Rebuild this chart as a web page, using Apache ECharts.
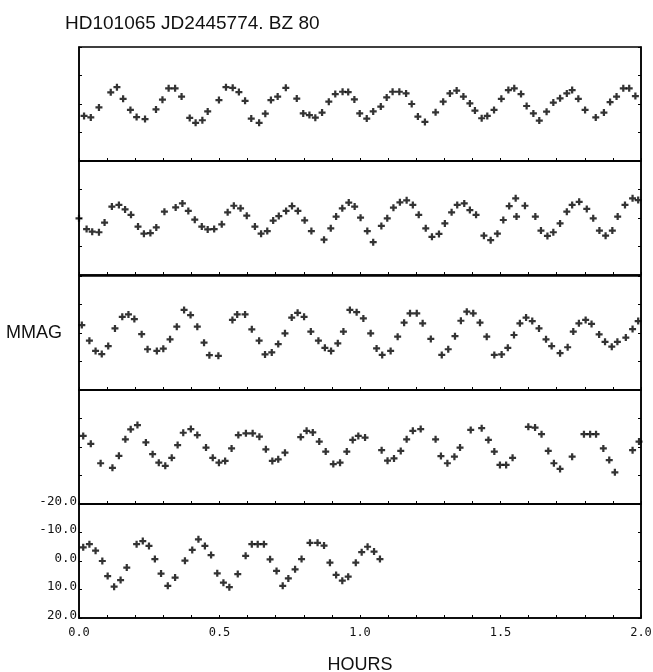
<!DOCTYPE html>
<html>
<head>
<meta charset="utf-8">
<script src="https://cdn.jsdelivr.net/npm/echarts@6/dist/echarts.min.js"></script>
<style>html,body{margin:0;padding:0;background:#fff}#chart{width:653px;height:672px}</style>
</head>
<body>
<div id="chart"></div>
<script>
// Tick labels
const xTickLabels = ['0.0', '0.5', '1.0', '1.5', '2.0'];
const yTickLabels = ['-20.0', '-10.0', '0.0', '10.0', '20.0'];

// Panel data: [hours, mmag]
const panel1 = [[0.018,4.2],[0.042,4.7],[0.071,1.2],[0.113,-4.1],[0.135,-5.9],[0.157,-1.8],[0.183,2.1],[0.205,4.6],[0.235,5.3],[0.274,1.9],[0.297,-1.5],[0.319,-5.5],[0.342,-5.5],[0.365,-2.6],[0.394,4.9],[0.415,6.6],[0.439,5.7],[0.458,2.6],[0.498,-1.4],[0.523,-5.9],[0.547,-5.7],[0.569,-4.2],[0.591,-1.1],[0.613,5.1],[0.641,6.6],[0.663,3.4],[0.683,-1.4],[0.707,-2.6],[0.736,-5.7],[0.775,-1.9],[0.798,3.3],[0.820,3.9],[0.841,4.8],[0.865,3.0],[0.889,-0.8],[0.912,-3.5],[0.938,-4.3],[0.958,-4.2],[0.980,-1.6],[0.999,3.3],[1.024,5.1],[1.047,2.6],[1.074,0.9],[1.095,-2.3],[1.116,-4.3],[1.140,-4.3],[1.164,-3.7],[1.184,0.0],[1.206,4.4],[1.231,6.3],[1.269,2.9],[1.296,-0.8],[1.320,-3.7],[1.344,-4.7],[1.368,-2.6],[1.391,-0.2],[1.409,2.3],[1.433,5.0],[1.453,4.2],[1.477,2.1],[1.503,-1.8],[1.528,-4.9],[1.549,-5.5],[1.573,-3.5],[1.593,0.7],[1.617,3.3],[1.638,5.8],[1.664,2.7],[1.688,-0.5],[1.712,-2.0],[1.736,-3.7],[1.755,-4.9],[1.777,-1.8],[1.801,2.1],[1.839,4.7],[1.868,3.0],[1.890,-0.7],[1.913,-2.6],[1.937,-5.5],[1.958,-5.5],[1.980,-2.8]];

const panel2 = [[0.000,0.1],[0.027,3.9],[0.047,4.8],[0.071,5.0],[0.091,1.6],[0.117,-4.0],[0.142,-4.6],[0.164,-3.0],[0.185,-1.1],[0.210,3.0],[0.231,5.5],[0.254,5.3],[0.275,3.3],[0.304,-2.2],[0.344,-3.7],[0.368,-5.1],[0.389,-2.5],[0.412,0.6],[0.437,3.0],[0.458,4.0],[0.481,3.9],[0.508,2.2],[0.529,-2.0],[0.551,-4.3],[0.575,-3.4],[0.597,-0.8],[0.626,3.0],[0.648,5.5],[0.670,4.6],[0.691,0.9],[0.711,-0.7],[0.737,-2.5],[0.758,-4.2],[0.779,-2.5],[0.803,0.8],[0.827,4.6],[0.872,7.6],[0.896,3.6],[0.915,-0.5],[0.937,-3.4],[0.960,-5.4],[0.981,-4.0],[1.002,-0.1],[1.026,4.6],[1.047,8.5],[1.076,2.8],[1.097,0.1],[1.119,-3.6],[1.142,-5.5],[1.166,-6.2],[1.188,-4.6],[1.209,-1.1],[1.234,3.6],[1.256,6.6],[1.281,5.6],[1.302,1.9],[1.326,-2.0],[1.346,-4.6],[1.371,-5.1],[1.391,-2.8],[1.413,-1.1],[1.441,6.2],[1.465,7.8],[1.489,5.5],[1.510,0.7],[1.531,-4.2],[1.554,-6.9],[1.557,-0.5],[1.587,-4.3],[1.624,-0.5],[1.644,4.4],[1.667,6.3],[1.688,5.0],[1.712,1.9],[1.736,-2.2],[1.755,-4.6],[1.780,-5.7],[1.807,-3.2],[1.830,0.1],[1.852,4.4],[1.874,6.2],[1.898,4.4],[1.917,-0.5],[1.943,-4.6],[1.970,-6.9],[1.990,-6.3]];

const panel3 = [[0.010,-2.8],[0.037,2.7],[0.059,6.3],[0.081,7.4],[0.104,4.6],[0.128,-1.6],[0.154,-5.7],[0.176,-6.5],[0.197,-4.9],[0.223,0.4],[0.244,5.7],[0.277,6.3],[0.300,5.5],[0.324,2.2],[0.348,-2.2],[0.374,-8.1],[0.397,-6.3],[0.421,-2.2],[0.445,3.4],[0.464,7.8],[0.496,8.0],[0.546,-4.6],[0.563,-6.5],[0.591,-6.5],[0.615,-1.3],[0.641,2.7],[0.662,7.5],[0.686,6.8],[0.709,3.9],[0.733,0.1],[0.757,-5.4],[0.778,-7.1],[0.801,-5.7],[0.825,-0.5],[0.852,2.7],[0.875,5.2],[0.897,6.3],[0.921,3.6],[0.941,-0.5],[0.964,-8.1],[0.988,-7.3],[1.012,-5.1],[1.038,0.1],[1.059,5.4],[1.079,7.7],[1.109,6.3],[1.134,1.3],[1.157,-3.6],[1.178,-6.9],[1.202,-6.9],[1.223,-3.4],[1.252,2.1],[1.291,7.7],[1.314,5.7],[1.338,1.1],[1.359,-4.3],[1.380,-7.5],[1.403,-6.9],[1.427,-3.6],[1.451,1.3],[1.478,7.7],[1.504,7.5],[1.526,5.2],[1.548,0.7],[1.569,-3.4],[1.591,-5.4],[1.613,-4.2],[1.637,-1.6],[1.662,2.2],[1.682,4.6],[1.712,7.1],[1.739,5.0],[1.759,-0.5],[1.779,-3.4],[1.803,-4.6],[1.824,-3.2],[1.851,0.5],[1.872,3.1],[1.896,4.8],[1.916,3.1],[1.946,1.6],[1.970,-1.4],[1.990,-4.2]];

const panel4 = [[0.015,-3.9],[0.042,-1.1],[0.077,5.7],[0.119,7.3],[0.142,3.1],[0.165,-2.7],[0.184,-6.2],[0.208,-7.7],[0.238,-1.6],[0.262,2.5],[0.284,5.5],[0.307,6.6],[0.330,3.8],[0.351,-0.7],[0.371,-5.0],[0.398,-6.3],[0.421,-4.2],[0.452,0.2],[0.476,3.8],[0.498,5.5],[0.520,4.9],[0.543,0.5],[0.567,-4.2],[0.594,-4.8],[0.618,-4.8],[0.642,-3.6],[0.665,0.8],[0.688,4.9],[0.709,4.3],[0.733,2.0],[0.789,-3.5],[0.810,-5.7],[0.832,-5.1],[0.855,-1.9],[0.878,1.6],[0.905,6.0],[0.929,5.5],[0.953,1.6],[0.974,-2.5],[0.994,-3.9],[1.018,-3.3],[1.077,1.1],[1.098,4.8],[1.121,4.0],[1.145,1.4],[1.166,-2.7],[1.188,-5.7],[1.216,-6.3],[1.269,-2.7],[1.288,3.2],[1.311,5.7],[1.336,3.4],[1.356,0.2],[1.394,-6.0],[1.433,-6.6],[1.457,-2.5],[1.478,1.6],[1.498,6.3],[1.520,6.3],[1.543,3.8],[1.599,-7.1],[1.623,-6.8],[1.646,-4.5],[1.670,1.4],[1.690,5.7],[1.712,7.7],[1.755,3.4],[1.797,-4.5],[1.819,-4.5],[1.840,-4.5],[1.866,0.5],[1.887,4.6],[1.907,8.9],[1.970,1.1],[1.993,-1.9]];

const panel5 = [[0.015,-4.8],[0.037,-5.9],[0.059,-3.6],[0.083,0.0],[0.102,5.3],[0.125,9.0],[0.148,6.7],[0.170,2.3],[0.205,-5.9],[0.227,-7.0],[0.249,-5.3],[0.270,-0.7],[0.292,4.4],[0.316,8.7],[0.342,5.8],[0.377,-0.1],[0.403,-3.9],[0.425,-7.6],[0.448,-5.3],[0.470,-2.1],[0.492,4.3],[0.514,7.6],[0.535,9.2],[0.565,4.6],[0.593,-1.8],[0.615,-5.9],[0.636,-5.9],[0.658,-5.9],[0.680,-0.6],[0.703,3.5],[0.725,8.7],[0.745,6.1],[0.769,2.9],[0.792,-0.7],[0.822,-6.4],[0.849,-6.4],[0.872,-5.4],[0.893,0.6],[0.915,4.9],[0.937,6.9],[0.958,5.5],[0.985,0.6],[1.006,-3.1],[1.027,-5.0],[1.050,-3.3],[1.071,-0.7]];

const panels = [panel1, panel2, panel3, panel4, panel5];
const titleText = 'HD101065 JD2445774. BZ 80';

const PLUS = 'path://M0,3.4H3.4V0H6.6V3.4H10V6.6H6.6V10H3.4V6.6H0Z';
const mono = 'DejaVu Sans Mono';
const tops = [47, 161, 276, 390, 504];
const H = 114;

const grids = [], xAxes = [], yAxes = [], series = [];
panels.forEach((data, i) => {
  const last = i === panels.length - 1;
  grids.push({ left: 79, right: 12, top: tops[i], height: H, show: true, borderColor: '#000', borderWidth: 1.5, containLabel: false, outerBoundsMode: 'none' });
  xAxes.push({
    type: 'value', gridIndex: i, min: 0, max: 2, interval: 0.1,
    axisLine: { show: true, onZero: false, lineStyle: { color: '#000', width: 1.5 } },
    axisTick: { show: true, inside: true, length: 3, lineStyle: { color: '#000', width: 1 } },
    splitLine: { show: false },
    axisLabel: {
      show: last, color: '#111', fontFamily: mono, fontSize: 12, margin: 9,
      formatter: v => { const k = Math.round(v * 2); return Math.abs(v * 2 - k) < 1e-6 ? xTickLabels[k] : ''; }
    },
    name: last ? 'HOURS' : '', nameLocation: 'middle', nameGap: 38,
    nameTextStyle: { color: '#111', fontSize: 18, fontFamily: 'Liberation Sans' }
  });
  yAxes.push({
    type: 'value', gridIndex: i, min: -20, max: 20, interval: 10, inverse: true,
    axisLine: { show: true, onZero: false, lineStyle: { color: '#000', width: 1.5 } },
    axisTick: { show: true, inside: true, length: 3, lineStyle: { color: '#000', width: 1 } },
    splitLine: { show: false },
    axisLabel: {
      show: last, color: '#111', fontFamily: mono, fontSize: 12.5, margin: 2,
      verticalAlign: 'bottom', lineHeight: 5,
      formatter: v => yTickLabels[Math.round((v + 20) / 10)]
    },
    name: i === 2 ? 'MMAG' : '', nameLocation: 'middle', nameRotate: 0, nameGap: 17,
    nameTextStyle: { color: '#111', fontSize: 18, fontFamily: 'Liberation Sans', align: 'right' }
  });
  yAxes.push({
    type: 'value', gridIndex: i, min: -20, max: 20, interval: 10, inverse: true, position: 'right',
    axisLine: { show: true, onZero: false, lineStyle: { color: '#000', width: 1.5 } },
    axisTick: { show: true, inside: true, length: 3, lineStyle: { color: '#000', width: 1 } },
    splitLine: { show: false }, axisLabel: { show: false }
  });
  series.push({
    type: 'scatter', xAxisIndex: i, yAxisIndex: i * 2, data: data,
    symbol: PLUS, symbolSize: 7, itemStyle: { color: '#000' }, silent: true, animation: false
  });
});

const chart = echarts.init(document.getElementById('chart'), null, { renderer: 'canvas' });
chart.setOption({
  backgroundColor: '#fff',
  animation: false,
  title: { text: titleText, left: 60, top: 9, textStyle: { fontFamily: 'Liberation Sans', fontSize: 19, fontWeight: 'normal', color: '#111' } },
  grid: grids, xAxis: xAxes, yAxis: yAxes, series: series
});
</script>
</body>
</html>
